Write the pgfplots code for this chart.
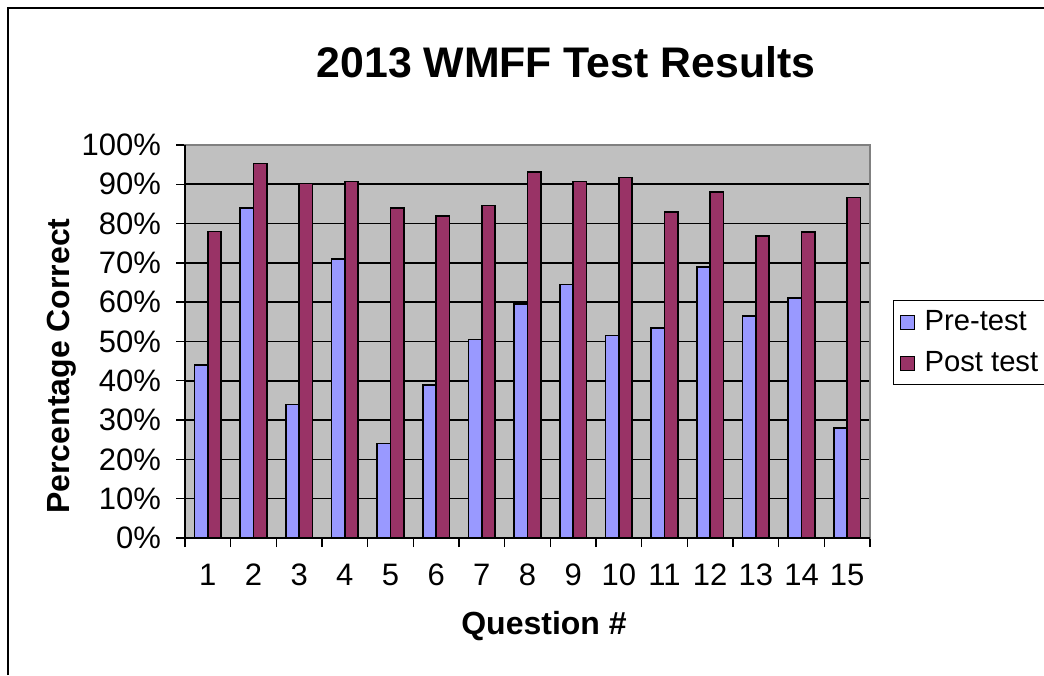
\documentclass[border=0pt]{standalone}
\usepackage{pgfplots}
\pgfplotsset{compat=1.18}
\usepackage{fontspec}
\setmainfont{Liberation Sans}
\definecolor{pre}{HTML}{9999FF}
\definecolor{post}{HTML}{993366}
\definecolor{bg}{HTML}{C0C0C0}
\begin{document}
\begin{tikzpicture}[x=1pt,y=1pt]
\useasboundingbox (0,0) rectangle (522,337.5);
\draw[line width=0.9pt] (4,0) -- (4,333.5) -- (522,333.5);
\node[font=\fontsize{21.4}{24}\selectfont\bfseries] at (283,306.5) {2013 WMFF Test Results};
\node[font=\fontsize{16}{18}\selectfont\bfseries] at (272,24.5) {Question \#};
\node[font=\fontsize{16}{18}\selectfont\bfseries,rotate=90] at (31,154.5) {Percentage Correct};
\begin{axis}[
  at={(92.5pt,68.5pt)}, anchor=south west,
  scale only axis, width=342.5pt, height=196.5pt,
  ybar=0pt, bar width=6.65pt,
  xmin=0.5, xmax=15.5, ymin=0, ymax=100,
  axis background/.style={fill=bg},
  axis line style={draw=gray, line width=0.8pt},
  xtick={0.5,1.5,...,15.5},
  x tick label as interval,
  xticklabels={1,2,3,4,5,6,7,8,9,10,11,12,13,14,15},
  xtick pos=bottom, ytick pos=left,
  ytick={0,10,...,100},
  yticklabels={0\%,10\%,20\%,30\%,40\%,50\%,60\%,70\%,80\%,90\%,100\%},
  tick style={draw=black, line width=0.7pt},
  major tick length=4.5pt, tick align=outside,
  ymajorgrids, xmajorgrids=false, major grid style={draw=black, line width=0.8pt},
  tick label style={font=\fontsize{15.5}{17}\selectfont},
  xticklabel style={yshift=-5pt},
  yticklabel style={xshift=-4pt},
  legend style={at={(rel axis cs:1.0336,0.6056)}, anchor=north west, draw=black, line width=0.6pt, fill=white, font=\fontsize{14.6}{16}\selectfont, inner xsep=3pt, inner ysep=3pt, row sep=5pt},
  legend cell align=left,
  legend image code/.code={\draw[#1, line width=0.5pt] (0pt,-3.5pt) rectangle (7pt,3.5pt);},
  clip=false,
]
\addplot[fill=pre, draw=black, line width=0.8pt] coordinates {
(1,44) (2,84) (3,34) (4,71) (5,24) (6,39) (7,50.5) (8,59.5) (9,64.5) (10,51.5) (11,53.5) (12,69) (13,56.5) (14,61) (15,28)};
\addplot[fill=post, draw=black, line width=0.8pt] coordinates {
(1,78) (2,95.3) (3,90.2) (4,90.7) (5,84) (6,82) (7,84.6) (8,93.2) (9,90.7) (10,91.7) (11,83) (12,88.1) (13,76.9) (14,77.9) (15,86.6)};
\legend{\hspace{3pt}Pre-test, \hspace{3pt}Post test}
\draw[black, line width=1.1pt] (rel axis cs:0,1) -- (rel axis cs:0,0) -- (rel axis cs:1,0);
\end{axis}
\end{tikzpicture}
\end{document}
